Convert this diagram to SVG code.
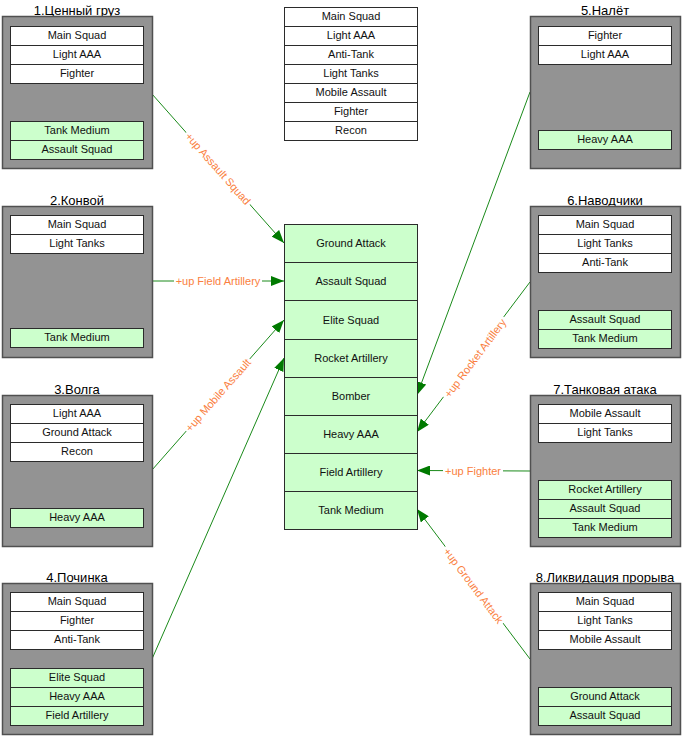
<svg xmlns="http://www.w3.org/2000/svg" width="682" height="736" viewBox="0 0 682 736">
  <style>
    text { font-family: "Liberation Sans", Arial, sans-serif; }
    .box { fill: #939393; stroke: #505050; stroke-width: 1.5; }
    .w { fill: #ffffff; stroke: #2b2b2b; stroke-width: 1; }
    .g { fill: #ccffcc; stroke: #2b2b2b; stroke-width: 1; }
    .lbl { font-size: 11px; fill: #111; text-anchor: middle; }
    .ttl { font-size: 13px; fill: #000; text-anchor: middle; }
    .con { stroke: #1a8a1a; stroke-width: 1; fill: none; marker-end: url(#arr); }
    .cl { font-size: 11px; fill: #fa8040; text-anchor: middle; }
    .bg { fill: #ffffff; }
  </style>
  <defs>
    <marker id="arr" markerUnits="userSpaceOnUse" markerWidth="14" markerHeight="10" refX="13" refY="5" orient="auto">
      <path d="M0,0 L13,5 L0,10 z" fill="#007a00"/>
    </marker>
  </defs>

  <rect width="682" height="736" fill="#ffffff"/>

  <!-- connectors -->
  <g id="connectors">
    <line class="con" x1="152" y1="94" x2="284" y2="243"/>
    <line class="con" x1="152" y1="281" x2="284" y2="281"/>
    <line class="con" x1="152" y1="470" x2="284" y2="320"/>
    <line class="con" x1="152" y1="659" x2="284" y2="358"/>
    <line class="con" x1="530" y1="92" x2="417" y2="395"/>
    <line class="con" x1="530" y1="282" x2="417" y2="432"/>
    <line class="con" x1="530" y1="471" x2="417" y2="470.5"/>
    <line class="con" x1="530" y1="659" x2="417" y2="509"/>

    <g transform="translate(218,168.5) rotate(48.5)">
      <rect class="bg" x="-48" y="-7" width="96" height="13"/>
      <text class="cl" y="4">+up Assault Squad</text>
    </g>
    <g transform="translate(218,281)">
      <rect class="bg" x="-44" y="-7" width="88" height="13"/>
      <text class="cl" y="4">+up Field Artillery</text>
    </g>
    <g transform="translate(218,395) rotate(-48.7)">
      <rect class="bg" x="-48" y="-7" width="96" height="13"/>
      <text class="cl" y="4">+up Mobile Assault</text>
    </g>
    <g transform="translate(475,358) rotate(-53.2)">
      <rect class="bg" x="-50" y="-7" width="100" height="13"/>
      <text class="cl" y="4">+up Rocket Artillery</text>
    </g>
    <g transform="translate(473,470.8)">
      <rect class="bg" x="-30" y="-7" width="60" height="13"/>
      <text class="cl" y="4">+up Fighter</text>
    </g>
    <g transform="translate(473.5,585.5) rotate(53)">
      <rect class="bg" x="-48" y="-7" width="96" height="13"/>
      <text class="cl" y="4">+up Ground Attack</text>
    </g>
  </g>

  <!-- unit pool -->
  <g id="pool">
    <rect class="w" x="284.5" y="7.5" width="133" height="19"/>
    <text class="lbl" x="351" y="20">Main Squad</text>
    <rect class="w" x="284.5" y="26.5" width="133" height="19"/>
    <text class="lbl" x="351" y="39">Light AAA</text>
    <rect class="w" x="284.5" y="45.5" width="133" height="19"/>
    <text class="lbl" x="351" y="58">Anti-Tank</text>
    <rect class="w" x="284.5" y="64.5" width="133" height="19"/>
    <text class="lbl" x="351" y="77">Light Tanks</text>
    <rect class="w" x="284.5" y="83.5" width="133" height="19"/>
    <text class="lbl" x="351" y="96">Mobile Assault</text>
    <rect class="w" x="284.5" y="102.5" width="133" height="19"/>
    <text class="lbl" x="351" y="115">Fighter</text>
    <rect class="w" x="284.5" y="121.5" width="133" height="19"/>
    <text class="lbl" x="351" y="134">Recon</text>
  </g>

  <!-- upgrade column -->
  <g id="upgrades">
    <rect class="g" x="284.5" y="224.5" width="133" height="38"/>
    <text class="lbl" x="351" y="247">Ground Attack</text>
    <rect class="g" x="284.5" y="262.5" width="133" height="38"/>
    <text class="lbl" x="351" y="285">Assault Squad</text>
    <rect class="g" x="284.5" y="300.5" width="133" height="39"/>
    <text class="lbl" x="351" y="324">Elite Squad</text>
    <rect class="g" x="284.5" y="339.5" width="133" height="38"/>
    <text class="lbl" x="351" y="362">Rocket Artillery</text>
    <rect class="g" x="284.5" y="377.5" width="133" height="38"/>
    <text class="lbl" x="351" y="400">Bomber</text>
    <rect class="g" x="284.5" y="415.5" width="133" height="38"/>
    <text class="lbl" x="351" y="438">Heavy AAA</text>
    <rect class="g" x="284.5" y="453.5" width="133" height="38"/>
    <text class="lbl" x="351" y="476">Field Artillery</text>
    <rect class="g" x="284.5" y="491.5" width="133" height="38"/>
    <text class="lbl" x="351" y="514">Tank Medium</text>
  </g>

  <!-- mission 1 -->
  <g id="m1" transform="translate(2,16)">
    <text class="ttl" x="75" y="-1">1.Ценный груз</text>
    <rect class="box" x="0.5" y="0.5" width="150" height="152"/>
    <rect class="w" x="8.5" y="10.5" width="133" height="19"/><text class="lbl" x="75" y="23">Main Squad</text>
    <rect class="w" x="8.5" y="29.5" width="133" height="19"/><text class="lbl" x="75" y="42">Light AAA</text>
    <rect class="w" x="8.5" y="48.5" width="133" height="19"/><text class="lbl" x="75" y="61">Fighter</text>
    <rect class="g" x="8.5" y="105.5" width="133" height="19"/><text class="lbl" x="75" y="118">Tank Medium</text>
    <rect class="g" x="8.5" y="124.5" width="133" height="19"/><text class="lbl" x="75" y="137">Assault Squad</text>
  </g>

  <!-- mission 2 -->
  <g id="m2" transform="translate(2,206)">
    <text class="ttl" x="75" y="-1">2.Конвой</text>
    <rect class="box" x="0.5" y="0.5" width="150" height="151"/>
    <rect class="w" x="8.5" y="9.5" width="133" height="19"/><text class="lbl" x="75" y="22">Main Squad</text>
    <rect class="w" x="8.5" y="28.5" width="133" height="19"/><text class="lbl" x="75" y="41">Light Tanks</text>
    <rect class="g" x="8.5" y="122.5" width="133" height="19"/><text class="lbl" x="75" y="135">Tank Medium</text>
  </g>

  <!-- mission 3 -->
  <g id="m3" transform="translate(2,395)">
    <text class="ttl" x="75" y="-1">3.Волга</text>
    <rect class="box" x="0.5" y="0.5" width="150" height="151"/>
    <rect class="w" x="8.5" y="9.5" width="133" height="19"/><text class="lbl" x="75" y="22">Light AAA</text>
    <rect class="w" x="8.5" y="28.5" width="133" height="19"/><text class="lbl" x="75" y="41">Ground Attack</text>
    <rect class="w" x="8.5" y="47.5" width="133" height="19"/><text class="lbl" x="75" y="60">Recon</text>
    <rect class="g" x="8.5" y="113.5" width="133" height="19"/><text class="lbl" x="75" y="126">Heavy AAA</text>
  </g>

  <!-- mission 4 -->
  <g id="m4" transform="translate(2,583)">
    <text class="ttl" x="75" y="-1">4.Починка</text>
    <rect class="box" x="0.5" y="0.5" width="150" height="151"/>
    <rect class="w" x="8.5" y="9.5" width="133" height="19"/><text class="lbl" x="75" y="22">Main Squad</text>
    <rect class="w" x="8.5" y="28.5" width="133" height="19"/><text class="lbl" x="75" y="41">Fighter</text>
    <rect class="w" x="8.5" y="47.5" width="133" height="19"/><text class="lbl" x="75" y="60">Anti-Tank</text>
    <rect class="g" x="8.5" y="85.5" width="133" height="19"/><text class="lbl" x="75" y="98">Elite Squad</text>
    <rect class="g" x="8.5" y="104.5" width="133" height="19"/><text class="lbl" x="75" y="117">Heavy AAA</text>
    <rect class="g" x="8.5" y="123.5" width="133" height="19"/><text class="lbl" x="75" y="136">Field Artillery</text>
  </g>

  <!-- mission 5 -->
  <g id="m5" transform="translate(530,16)">
    <text class="ttl" x="75" y="-1">5.Налёт</text>
    <rect class="box" x="0.5" y="0.5" width="150" height="152"/>
    <rect class="w" x="8.5" y="10.5" width="133" height="19"/><text class="lbl" x="75" y="23">Fighter</text>
    <rect class="w" x="8.5" y="29.5" width="133" height="19"/><text class="lbl" x="75" y="42">Light AAA</text>
    <rect class="g" x="8.5" y="114.5" width="133" height="19"/><text class="lbl" x="75" y="127">Heavy AAA</text>
  </g>

  <!-- mission 6 -->
  <g id="m6" transform="translate(530,206)">
    <text class="ttl" x="75" y="-1">6.Наводчики</text>
    <rect class="box" x="0.5" y="0.5" width="150" height="151"/>
    <rect class="w" x="8.5" y="9.5" width="133" height="19"/><text class="lbl" x="75" y="22">Main Squad</text>
    <rect class="w" x="8.5" y="28.5" width="133" height="19"/><text class="lbl" x="75" y="41">Light Tanks</text>
    <rect class="w" x="8.5" y="47.5" width="133" height="19"/><text class="lbl" x="75" y="60">Anti-Tank</text>
    <rect class="g" x="8.5" y="104.5" width="133" height="19"/><text class="lbl" x="75" y="117">Assault Squad</text>
    <rect class="g" x="8.5" y="123.5" width="133" height="19"/><text class="lbl" x="75" y="136">Tank Medium</text>
  </g>

  <!-- mission 7 -->
  <g id="m7" transform="translate(530,395)">
    <text class="ttl" x="75" y="-1">7.Танковая атака</text>
    <rect class="box" x="0.5" y="0.5" width="150" height="151"/>
    <rect class="w" x="8.5" y="9.5" width="133" height="19"/><text class="lbl" x="75" y="22">Mobile Assault</text>
    <rect class="w" x="8.5" y="28.5" width="133" height="19"/><text class="lbl" x="75" y="41">Light Tanks</text>
    <rect class="g" x="8.5" y="85.5" width="133" height="19"/><text class="lbl" x="75" y="98">Rocket Artillery</text>
    <rect class="g" x="8.5" y="104.5" width="133" height="19"/><text class="lbl" x="75" y="117">Assault Squad</text>
    <rect class="g" x="8.5" y="123.5" width="133" height="19"/><text class="lbl" x="75" y="136">Tank Medium</text>
  </g>

  <!-- mission 8 -->
  <g id="m8" transform="translate(530,583)">
    <text class="ttl" x="75" y="-1">8.Ликвидация прорыва</text>
    <rect class="box" x="0.5" y="0.5" width="150" height="151"/>
    <rect class="w" x="8.5" y="9.5" width="133" height="19"/><text class="lbl" x="75" y="22">Main Squad</text>
    <rect class="w" x="8.5" y="28.5" width="133" height="19"/><text class="lbl" x="75" y="41">Light Tanks</text>
    <rect class="w" x="8.5" y="47.5" width="133" height="19"/><text class="lbl" x="75" y="60">Mobile Assault</text>
    <rect class="g" x="8.5" y="104.5" width="133" height="19"/><text class="lbl" x="75" y="117">Ground Attack</text>
    <rect class="g" x="8.5" y="123.5" width="133" height="19"/><text class="lbl" x="75" y="136">Assault Squad</text>
  </g>
</svg>
